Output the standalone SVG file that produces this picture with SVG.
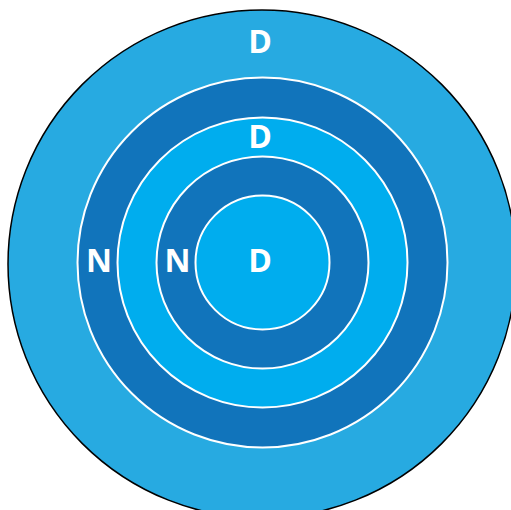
<svg xmlns="http://www.w3.org/2000/svg" width="511" height="510" viewBox="0 0 511 510">
<style>
.ring{stroke:#ffffff;stroke-width:2}
.dark{fill:#1174bb}
.mid{fill:#00adee}
.lbl{font-family:"Open Sans","DejaVu Sans",sans-serif;font-weight:bold;font-size:32px;fill:#ffffff;text-anchor:middle}
</style>
<g id="outer"><circle cx="262" cy="264" r="254" fill="#27aae1" stroke="#000000" stroke-width="1.5"/><text class="lbl" x="260" y="53">D</text></g>
<g id="ring1"><circle class="ring dark" cx="262.5" cy="262.5" r="185"/></g>
<g id="ring2"><circle class="ring mid" cx="262.5" cy="262.5" r="145"/></g>
<g id="ring3"><circle class="ring dark" cx="262.5" cy="262.5" r="106"/></g>
<g id="core"><circle class="ring mid" cx="262.5" cy="262.5" r="67"/></g>
<g id="labels">
<text class="lbl" x="260" y="148">D</text>
<text class="lbl" x="260" y="272">D</text>
<text class="lbl" x="99" y="272">N</text>
<text class="lbl" x="177.5" y="272">N</text>
</g>
</svg>
